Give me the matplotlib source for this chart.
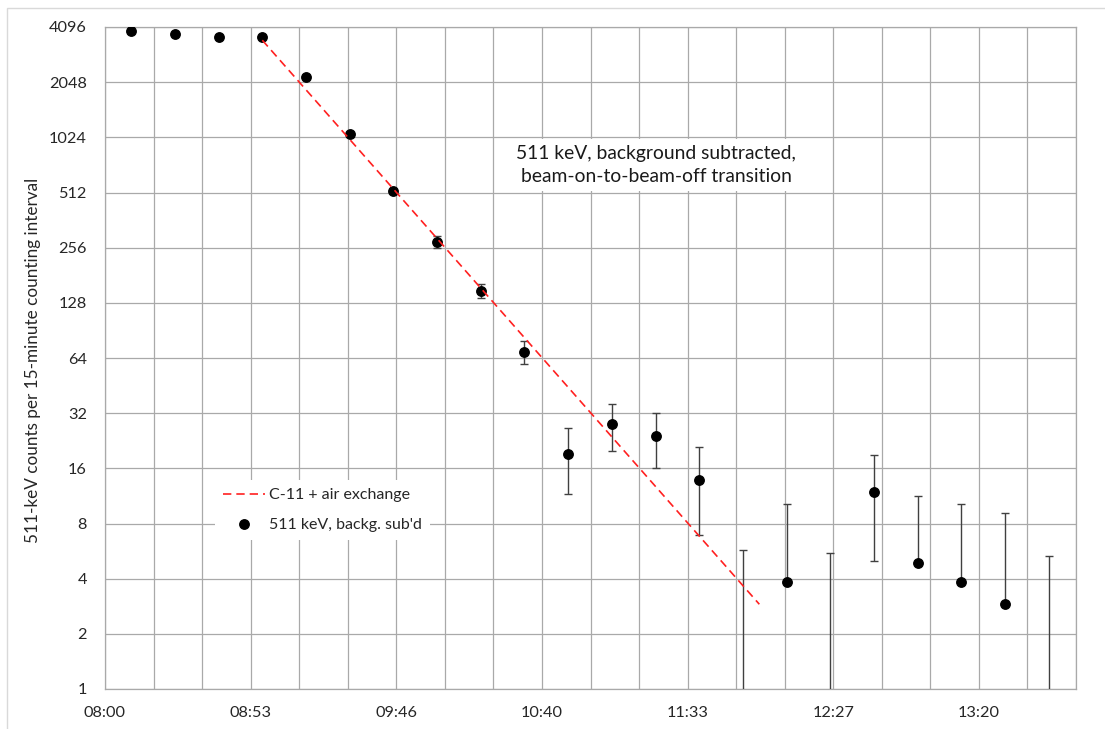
import numpy as np
import matplotlib
matplotlib.use("Agg")
import matplotlib.pyplot as plt
from matplotlib.lines import Line2D
from matplotlib.patches import Rectangle

# === Data: 511 keV counts per 15-min interval, background subtracted ===
times = ["08:09:36", "08:25:36", "08:41:36", "08:57:36", "09:13:36", "09:29:36",
         "09:45:36", "10:01:36", "10:17:36", "10:33:36", "10:49:36", "11:05:36",
         "11:21:36", "11:37:36", "11:53:36", "12:09:36", "12:25:36", "12:41:36",
         "12:57:36", "13:13:36", "13:29:36", "13:45:36"]
counts = [3880, 3765, 3630, 3630, 2190, 1065, 522, 275, 149, 69, 19.1, 28,
          24, 13.9, 0, 3.85, 0, 11.9, 4.9, 3.85, 2.9, 0]
sigma = [65, 64, 63, 63, 50, 35, 15, 20, 13, 10, 7.5, 8,
         8, 7, 5.7, 6.4, 5.5, 6.9, 6.35, 6.35, 6.2, 5.3]

# C-11 + air exchange decay curve (straight on a log axis: two ends)
fit_times = ["08:57:36", "11:59:36"]
fit_counts = [3470, 2.9]

x_tick_labels = ["08:00", "08:53", "09:46", "10:40", "11:33", "12:27", "13:20"]
y_ticks = [1, 2, 4, 8, 16, 32, 64, 128, 256, 512, 1024, 2048, 4096]

FONT = ["Lato", "DejaVu Sans"]
GRID = "#a9a9a9"


def to_minutes(s):
    h, m, sec = [int(p) for p in s.split(":")]
    return (h - 8) * 60 + m + sec / 60.0


t = np.array([to_minutes(s) for s in times])
c = np.array(counts, dtype=float)
e = np.array(sigma, dtype=float)
t_fit = np.array([to_minutes(s) for s in fit_times])

plt.rcParams['font.family'] = FONT

fig = plt.figure(figsize=(11.05, 7.29), dpi=100)
ax = fig.add_axes([105 / 1105, 40 / 729, 971 / 1105, 662 / 729])

# light chart-area border
fig.patches.append(Rectangle((7 / 1105, -0.05), 1.1, 1.05 - 8 / 729,
                             transform=fig.transFigure, fill=False,
                             edgecolor="#d9d9d9", linewidth=1.0, zorder=0))

# error bars: points with count <= 0 only show a bar down off the axis
pos = c > 0
yc = np.where(pos, c, c + e)
lo = np.where(pos, np.where(c > e, e, 0.0), yc - 0.01)
hi = np.where(pos, e, 0.0)
ax.errorbar(t, yc, yerr=[lo, hi], fmt='none', ecolor="#404040",
            elinewidth=1.0, capsize=3.2, capthick=1.0, zorder=3)
ax.plot(t[pos], c[pos], 'o', color='black', markersize=6.8, zorder=4)

ax.plot(t_fit, fit_counts, '--', color='#ff2020', linewidth=1.2,
        dashes=(5, 3), zorder=5)

# axes
ax.set_yscale('log', base=2)
ax.set_ylim(1, 4096)
ax.set_yticks(y_ticks)
ax.set_yticklabels([str(v) for v in y_ticks])
ax.yaxis.set_minor_locator(matplotlib.ticker.NullLocator())

step = 160 / 9.0
ax.set_xlim(0, 20 * step)
ax.set_xticks([3 * step * i for i in range(len(x_tick_labels))])
ax.set_xticklabels(x_tick_labels)
ax.set_xticks([step * i for i in range(21)], minor=True)

ax.grid(True, which='both', axis='x', color=GRID, linewidth=0.9)
ax.grid(True, which='major', axis='y', color=GRID, linewidth=0.9)
ax.set_axisbelow(True)
for sp in ax.spines.values():
    sp.set_color(GRID)
    sp.set_linewidth(0.9)

ax.tick_params(which='both', length=0, labelsize=11.7, colors='#262626')
ax.tick_params(axis='y', pad=13)
ax.tick_params(axis='x', pad=12)

ax.set_ylabel("511-keV counts per 15-minute counting interval",
              fontsize=12.3, color='#262626')
ax.yaxis.set_label_coords(-0.066, 0.497)

ax.text(0.5674, 0.7915,
        "511 keV, background subtracted,\nbeam-on-to-beam-off transition",
        transform=ax.transAxes, ha='center', va='center', fontsize=13.9,
        linespacing=1.4, color='#1a1a1a', zorder=6,
        bbox=dict(boxstyle='square,pad=0.3', facecolor='white', edgecolor='none'))

handles = [Line2D([], [], color='#ff2020', linestyle='--', dashes=(5, 3), linewidth=1.2),
           Line2D([], [], color='black', marker='o', linestyle='none', markersize=6.8)]
leg = ax.legend(handles, ["C-11 + air exchange", "511 keV, backg. sub'd"],
                loc='upper left', bbox_to_anchor=(0.1133, 0.3157), fontsize=11.5,
                frameon=True, fancybox=False, framealpha=1, facecolor='white',
                edgecolor='none', borderpad=0.5, handlelength=2.6,
                handletextpad=0.3, labelspacing=1.0, borderaxespad=0)
leg.set_zorder(6)
for txt in leg.get_texts():
    txt.set_color('#262626')

fig.savefig("out.png", dpi=100)
